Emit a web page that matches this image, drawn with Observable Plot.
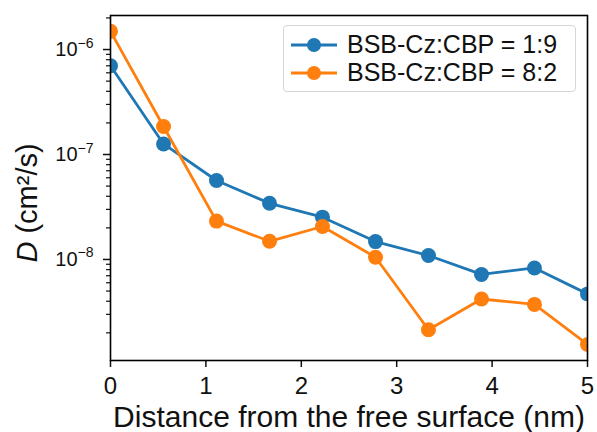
<!DOCTYPE html>
<html>
<head>
<meta charset="utf-8">
<script src="https://cdn.jsdelivr.net/npm/d3@7"></script>
<script src="https://cdn.jsdelivr.net/npm/@observablehq/plot@0.6"></script>
<style>
  body { margin: 0; background: #fff; }
  #wrap { position: relative; width: 597px; height: 432px; font-family: "Liberation Sans", Arial, sans-serif; }
  #legend { position: absolute; left: 283px; top: 25px; width: 293px; height: 67px; border: 1px solid #d6d6d6; border-radius: 4px; background: rgba(255,255,255,0.85); box-sizing: border-box; }
  .item { position: absolute; left: 6px; display: flex; align-items: center; font-size: 25px; color: #111; white-space: nowrap; }
  .item svg { margin-right: 9px; }
</style>
</head>
<body>
<div id="wrap"></div>
<script>
// Data
const distance = [0, 0.556, 1.111, 1.667, 2.222, 2.778, 3.333, 3.889, 4.444, 5.0];
const series19 = [7.0e-7, 1.26e-7, 5.65e-8, 3.43e-8, 2.53e-8, 1.48e-8, 1.09e-8, 7.2e-9, 8.3e-9, 4.7e-9];
const series82 = [1.49e-6, 1.85e-7, 2.32e-8, 1.49e-8, 2.06e-8, 1.05e-8, 2.14e-9, 4.2e-9, 3.73e-9, 1.55e-9];
const seriesNames = ["BSB-Cz:CBP = 1:9", "BSB-Cz:CBP = 8:2"];
const seriesColors = ["#1f77b4", "#ff7f0e"];
const xTicks = [0, 1, 2, 3, 4, 5];
const yMajorTicks = [1e-8, 1e-7, 1e-6];
const xLabel = "Distance from the free surface (nm)";
const yLabel = "D (cm²/s)";
const yDomain = [1.09e-9, 2.11e-6];

const rows = [];
[series19, series82].forEach((vals, s) => {
  vals.forEach((v, i) => rows.push({series: seriesNames[s], x: distance[i], y: v}));
});

const yMinorTicks = [];
for (let e = -10; e <= -5; e++) for (let k = 2; k <= 9; k++) {
  const v = k * Math.pow(10, e);
  if (v >= yDomain[0] && v <= yDomain[1]) yMinorTicks.push(v);
}

const chart = Plot.plot({
  width: 597,
  height: 432,
  marginLeft: 110,
  marginTop: 15,
  marginRight: 10,
  marginBottom: 72,
  style: {fontFamily: "'Liberation Sans', Arial, sans-serif", background: "white", color: "#111"},
  x: {domain: [0, 5]},
  y: {type: "log", domain: yDomain},
  color: {domain: seriesNames, range: seriesColors},
  marks: [
    Plot.axisX({ticks: xTicks, tickSize: 7, tickPadding: 9, fontSize: 24, label: null, strokeWidth: 1.5, tickFormat: d => String(d)}),
    Plot.axisY({ticks: yMajorTicks, tickSize: 7, tickPadding: 10, fontSize: 20, label: null, strokeWidth: 1.5,
      tickFormat: d => "10|−" + Math.abs(Math.round(Math.log10(d)))}),
    Plot.axisY({ticks: yMinorTicks, tickSize: 4, label: null, text: null, strokeWidth: 1.2}),
    Plot.line(rows, {x: "x", y: "y", stroke: "series", z: "series", strokeWidth: 2.8, clip: true}),
    Plot.dot(rows, {x: "x", y: "y", fill: "series", r: 7.5, clip: true}),
    Plot.frame({stroke: "black", strokeWidth: 1.6}),
    Plot.text([xLabel], {frameAnchor: "bottom", dy: 66, fontSize: 30, fill: "#111"}),
    Plot.text([yLabel], {frameAnchor: "left", textAnchor: "middle", dx: -83, dy: 15, rotate: -90, fontSize: 29, fill: "#111"})
  ]
});

// superscripts in y tick labels
d3.select(chart).selectAll('g[aria-label="y-axis tick label"] text').each(function() {
  const t = d3.select(this);
  const parts = t.text().split("|");
  if (parts.length === 2) {
    t.style("font-size", "20px");
    t.text(parts[0]);
    t.append("tspan").attr("dy", "-0.6em").style("font-size", "14px").text(parts[1]);
  }
});
// italic D in y label
d3.select(chart).selectAll('g[aria-label="text"] text').each(function() {
  const t = d3.select(this);
  if (t.text() === yLabel) {
    t.text(null);
    t.append("tspan").attr("font-style", "italic").text("D");
    t.append("tspan").text(yLabel.slice(1));
  }
});

const wrap = document.getElementById("wrap");
wrap.appendChild(chart);

// legend
const legend = document.createElement("div");
legend.id = "legend";
seriesNames.forEach((name, i) => {
  const item = document.createElement("div");
  item.className = "item";
  item.style.top = (4 + i * 28) + "px";
  item.innerHTML = `<svg width="48" height="28"><line x1="1" x2="47" y1="14" y2="14" stroke="${seriesColors[i]}" stroke-width="2.8"/><circle cx="24" cy="14" r="7" fill="${seriesColors[i]}"/></svg><span>${name}</span>`;
  legend.appendChild(item);
});
wrap.appendChild(legend);
</script>
</body>
</html>
